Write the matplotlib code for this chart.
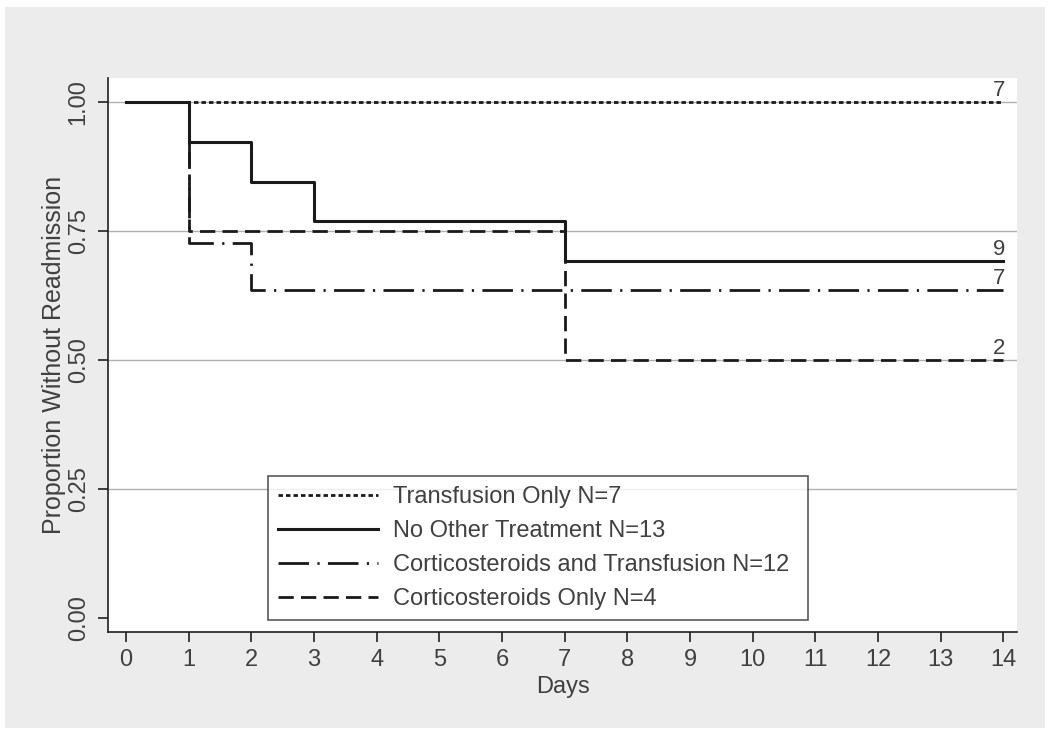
import matplotlib
matplotlib.use("Agg")
import matplotlib.pyplot as plt
from matplotlib.patches import Rectangle

# ---- data ----
days_transfusion = [0, 14]
surv_transfusion = [1.0, 1.0]
days_noother = [0, 1, 2, 3, 7, 14]
surv_noother = [1.0, 0.923, 0.846, 0.769, 0.692, 0.692]
days_cort_trans = [0, 1, 2, 14]
surv_cort_trans = [1.0, 0.727, 0.636, 0.636]
days_cort = [0, 1, 7, 14]
surv_cort = [1.0, 0.75, 0.50, 0.50]
end_labels = ["7", "9", "7", "2"]
series_names = ["Transfusion Only N=7", "No Other Treatment N=13",
                "Corticosteroids and Transfusion N=12", "Corticosteroids Only N=4"]
x_ticks = list(range(0, 15))
y_ticks = [0.0, 0.25, 0.5, 0.75, 1.0]
y_ticklabels = ["0.00", "0.25", "0.50", "0.75", "1.00"]

plt.rcParams['font.family'] = ["Liberation Sans", 'DejaVu Sans']
tc = "#404040"

W, H = 1050, 736
fig = plt.figure(figsize=(W/100, H/100), dpi=100, facecolor="white")
fig.patches.append(Rectangle((5/W, 1-728/H), (1045-5)/W, (728-7)/H,
                             transform=fig.transFigure, facecolor="#ececec",
                             edgecolor="none", zorder=-10))
ax = fig.add_axes([108/W, 1-632/H, (1017-108)/W, (632-78)/H])
ax.set_zorder(1)
ax.set_facecolor("white")
ax.set_xlim(-0.29, 14.22)
ax.set_ylim(-0.027, 1.047)

for y in [0.25, 0.5, 0.75, 1.0]:
    ax.axhline(y, color="#b0b0b0", lw=1, zorder=1)

styles = [
    dict(ls=(0, (1.6, 1.1)), lw=2.0),
    dict(ls="-", lw=2.2),
    dict(ls=(0, (11, 3, 0.8, 3)), lw=2.0),
    dict(ls=(0, (5.5, 2.6)), lw=2.0),
]
data = [(days_transfusion, surv_transfusion), (days_noother, surv_noother),
        (days_cort_trans, surv_cort_trans), (days_cort, surv_cort)]
handles = []
for (d, s), st, name, lab in zip(data, styles, series_names, end_labels):
    h, = ax.step(d, s, where="post", color="#1a1a1a", label=name, zorder=3, **st)
    handles.append(h)
    ax.text(d[-1] + 0.03, s[-1] + 0.002, lab, ha="right", va="bottom", fontsize=16, color=tc)

for sp in ["top", "right"]:
    ax.spines[sp].set_visible(False)
for sp in ["left", "bottom"]:
    ax.spines[sp].set_color("#202020")
    ax.spines[sp].set_linewidth(1.2)

ax.set_xticks(x_ticks)
ax.set_xticklabels([str(x) for x in x_ticks], fontsize=17, color=tc)
ax.set_yticks(y_ticks)
ax.set_yticklabels(y_ticklabels, fontsize=17, color=tc, rotation=90, va="center")
ax.tick_params(axis="both", direction="out", length=7.2, width=1.2, color="#202020")
ax.tick_params(axis="x", pad=5)
ax.tick_params(axis="y", pad=6)
ax.set_xlabel("Days", fontsize=17, color=tc, labelpad=4)
ax.set_ylabel("Proportion Without Readmission", fontsize=18, color=tc, labelpad=1)

leg = ax.legend(handles=handles, loc="lower left",
                bbox_to_anchor=((268-108)/(1017-108), (632-620)/(632-78),
                                (808-268)/(1017-108), (620-471)/(632-78)),
                mode="expand", fontsize=17, frameon=True, fancybox=False,
                handlelength=4.24, handletextpad=0.64, borderaxespad=0,
                labelspacing=0.51, borderpad=0.42, labelcolor=tc)
leg.get_frame().set_edgecolor("#303030")
leg.get_frame().set_linewidth(1.2)

fig.savefig("out.png", dpi=100, facecolor=fig.get_facecolor())
